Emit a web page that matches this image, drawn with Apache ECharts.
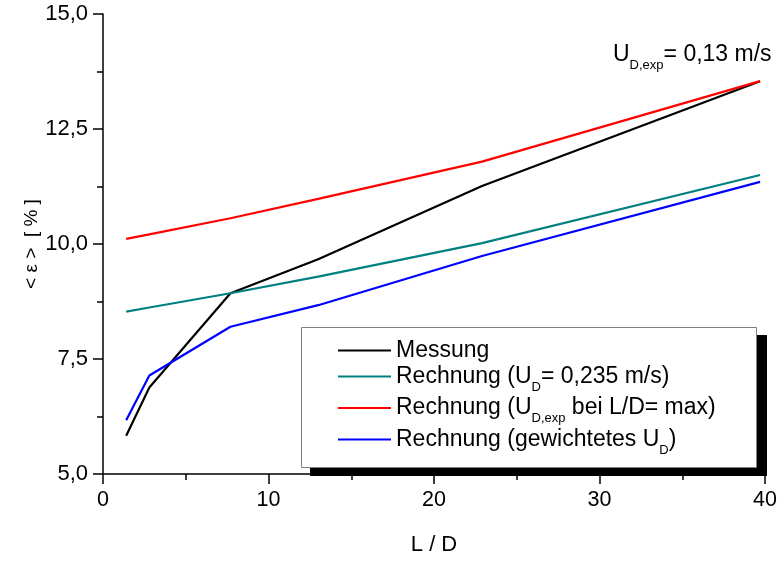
<!DOCTYPE html>
<html>
<head>
<meta charset="utf-8">
<script src="https://cdn.jsdelivr.net/npm/echarts@6/dist/echarts.min.js"></script>
<style>
html,body{margin:0;padding:0;background:#fff;}
#chart{width:780px;height:561px;}
</style>
</head>
<body>
<div id="chart"></div>
<script>
// L/D positions
const xVals = [1.4, 2.8, 7.7, 13.0, 22.9, 39.7];
// series values <ε> [%]
const messung   = [5.83, 6.88, 8.93, 9.67, 11.26, 13.54];
const ud0235    = [8.53, 8.62, 8.93, 9.29, 10.02, 11.50];
const udExpMax  = [10.11, 10.21, 10.56, 10.98, 11.79, 13.54];
const gewichtet = [6.17, 7.14, 8.20, 8.67, 9.74, 11.35];

const seriesNames = ['Messung', 'Rechnung (U_D= 0,235 m/s)', 'Rechnung (U_D,exp bei L/D= max)', 'Rechnung (gewichtetes U_D)'];
const seriesColors = ['#000000', '#008080', '#ff0000', '#0000ff'];
const legendRich = {
  'Messung': '{n|Messung}',
  'Rechnung (U_D= 0,235 m/s)': '{n|Rechnung (U}{s|D}{n|= 0,235 m/s)}',
  'Rechnung (U_D,exp bei L/D= max)': '{n|Rechnung (U}{s|D,exp}{n| bei L/D= max)}',
  'Rechnung (gewichtetes U_D)': '{n|Rechnung (gewichtetes U}{s|D}{n|)}'
};
const FONT = "'Liberation Sans', Arial, sans-serif";

function pairs(ys){ return xVals.map((x,i)=>[x, ys[i]]); }
const allData = [messung, ud0235, udExpMax, gewichtet];

const richStyles = {
  n: {fontFamily: FONT, fontSize: 23, lineHeight: 34, verticalAlign: 'middle', color: '#000'},
  s: {fontFamily: FONT, fontSize: 13, lineHeight: 34, verticalAlign: 'bottom', color: '#000'}
};

const chart = echarts.init(document.getElementById('chart'), null, {renderer:'canvas'});
chart.setOption({
  animation: false,
  backgroundColor: '#fff',
  grid: {left: 103, right: 13, top: 14, bottom: 87, containLabel: false},
  xAxis: {
    type: 'value', min: 0, max: 40, interval: 10,
    name: 'L / D', nameLocation: 'middle', nameGap: 60,
    nameTextStyle: {fontFamily: FONT, fontSize: 22, color: '#000'},
    axisLine: {show: true, onZero: false, lineStyle: {color: '#000', width: 1.5}},
    axisTick: {show: true, inside: false, length: 10, lineStyle: {color: '#000', width: 1.5}},
    minorTick: {show: true, splitNumber: 2, length: 6, lineStyle: {color: '#000', width: 1.5}},
    axisLabel: {fontFamily: FONT, fontSize: 21.5, color: '#000', margin: 15},
    splitLine: {show: false}
  },
  yAxis: {
    type: 'value', min: 5, max: 15, interval: 2.5,
    name: '< ε >  [ % ]', nameLocation: 'middle', nameGap: 62, nameRotate: 90,
    nameMoveOverlap: false,
    nameTextStyle: {fontFamily: FONT, fontSize: 19, color: '#000'},
    axisLine: {show: true, onZero: false, lineStyle: {color: '#000', width: 1.5}},
    axisTick: {show: true, inside: false, length: 10, lineStyle: {color: '#000', width: 1.5}},
    minorTick: {show: true, splitNumber: 2, length: 6, lineStyle: {color: '#000', width: 1.5}},
    axisLabel: {fontFamily: FONT, fontSize: 22, color: '#000', margin: 15,
      formatter: v => v.toFixed(1).replace('.', ',')},
    splitLine: {show: false}
  },
  legend: {
    orient: 'vertical', left: 338, top: 339, padding: 0, itemGap: 3,
    itemWidth: 53, itemHeight: 2, icon: 'rect',
    data: seriesNames,
    formatter: name => legendRich[name],
    textStyle: {fontFamily: FONT, color: '#000', rich: richStyles},
    z: 10
  },
  graphic: [
    {type: 'rect', z: 5, shape: {x: 310, y: 335, width: 457, height: 141}, style: {fill: '#000'}},
    {type: 'rect', z: 6, shape: {x: 301.5, y: 327.5, width: 455, height: 140}, style: {fill: '#fff', stroke: '#808080', lineWidth: 1}},
    {type: 'text', z: 6, left: 613, top: 43,
      style: {
        text: '{n|U}{s|D,exp}{n|= 0,13 m/s}',
        rich: {
          n: {fontFamily: FONT, fontSize: 23, lineHeight: 34, verticalAlign: 'middle', fill: '#000'},
          s: {fontFamily: FONT, fontSize: 13, lineHeight: 34, verticalAlign: 'bottom', fill: '#000'}
        }
      }
    }
  ],
  series: seriesNames.map((nm, i) => ({
    name: nm, type: 'line', data: pairs(allData[i]),
    symbol: 'none', smooth: false, z: 2,
    lineStyle: {color: seriesColors[i], width: 2.2},
    itemStyle: {color: seriesColors[i]}
  }))
});
</script>
</body>
</html>
